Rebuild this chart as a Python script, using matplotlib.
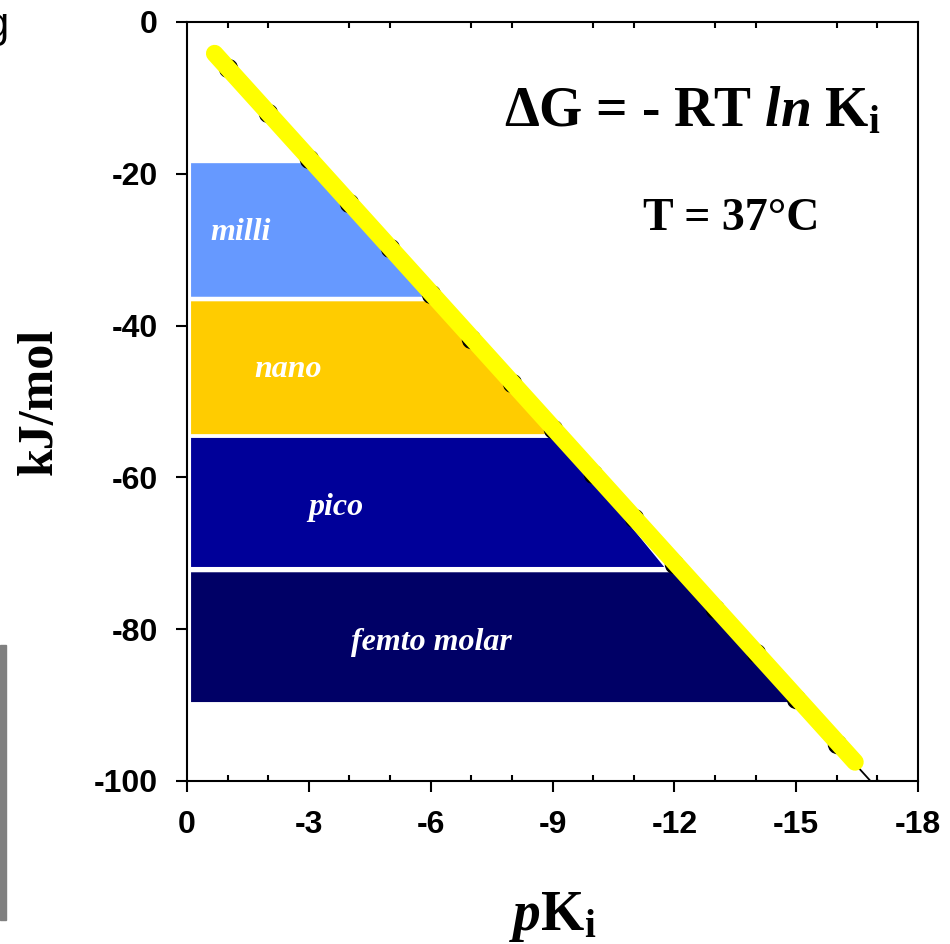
import numpy as np
import matplotlib.pyplot as plt
from matplotlib.ticker import MultipleLocator, FixedLocator

# data
pK = [-1, -2, -3, -4, -5, -6, -7, -8, -9, -10, -11, -12, -13, -14, -15, -16, -17]
dG = [-6.1, -12.0, -18.0, -23.9, -29.8, -35.8, -41.7, -47.6, -53.6, -59.5,
      -65.4, -71.4, -77.3, -83.2, -89.2, -95.1, -101.0]
fit_pK = [-0.68, -16.45]
fit_dG = [-4.15, -97.5]

band_names = ["milli", "nano", "pico", "femto molar"]
band_top = [-18.6, -36.8, -54.8, -72.5]
band_bottom = [-36.2, -54.3, -71.8, -89.6]
band_right_top = [-3.13, -6.18, -9.15, -12.2]
band_right_bottom = [-6.08, -9.13, -11.75, -14.95]
band_left = -0.1
band_colors = ["#6699ff", "#ffcc00", "#000099", "#000066"]

xticks = [0, -3, -6, -9, -12, -15, -18]
yticks = [0, -20, -40, -60, -80, -100]

plt.rcParams['axes.unicode_minus'] = False
plt.rcParams['mathtext.fontset'] = 'custom'
plt.rcParams['mathtext.rm'] = 'Liberation Serif:bold'
plt.rcParams['mathtext.it'] = 'Liberation Serif:bold:italic'
plt.rcParams['mathtext.bf'] = 'Liberation Serif:bold'

fig = plt.figure(figsize=(9.5, 9.44), dpi=100)
ax = fig.add_axes([187/950, 1-781/944, 731/950, 759/944])

#=========== concentration bands =============#
for i in range(len(band_names)):
    xs = [band_left, band_right_top[i], band_right_bottom[i], band_left]
    ys = [band_top[i], band_top[i], band_bottom[i], band_bottom[i]]
    ax.fill(xs, ys, color=band_colors[i], lw=0, zorder=1)

ax.plot(pK, dG, color='black', lw=1.3, marker='o', ms=13, zorder=2)
ax.plot(fit_pK, fit_dG, color='#ffff00', lw=12.5, solid_capstyle='round', zorder=3)

lab = dict(color='white', fontsize=23, family='Liberation Serif',
           style='italic', weight='bold', va='center', zorder=4)
ax.text(-0.57, -27.7, band_names[0], ha='left', **lab)
ax.text(-2.49, -45.8, band_names[1], ha='center', **lab)
ax.text(-3.67, -63.9, band_names[2], ha='center', **lab)
ax.text(-6.03, -81.7, band_names[3], ha='center', **lab)

ax.text(-12.44, -11.9, r'$\Delta$G = - RT $ln$ K$_\mathbf{i}$', fontsize=40,
        family='Liberation Serif', weight='bold', ha='center', va='center')
ax.text(-13.4, -26.0, 'T = 37°C', fontsize=33,
        family='Liberation Serif', weight='bold', ha='center', va='center')

ax.set_xlim(0, -18)
ax.set_ylim(-100, 0)
ax.xaxis.set_major_locator(FixedLocator(xticks))
ax.yaxis.set_major_locator(FixedLocator(yticks))
ax.xaxis.set_minor_locator(MultipleLocator(1))
ax.set_xticklabels([str(v) for v in xticks])
ax.set_yticklabels([str(v) for v in yticks])
for t in ax.get_xticklabels() + ax.get_yticklabels():
    t.set_family('Liberation Sans')
    t.set_weight('bold')
    t.set_fontsize(23)

ax.tick_params(which='major', direction='out', length=8, width=1.5,
               top=False, right=False, pad=13)
ax.tick_params(which='minor', direction='in', length=4, width=1.5,
               top=True, bottom=True)
for s in ax.spines.values():
    s.set_linewidth(1.5)

ax.set_ylabel('kJ/mol', fontsize=36, family='Liberation Serif', weight='bold',
              labelpad=22)
ax.set_xlabel(r'$p$K$_\mathbf{i}$', fontsize=40, family='Liberation Serif',
              weight='bold', labelpad=36)

# bits of neighbouring content cut off at the left edge
fig.text(0.009, 0.972, 'g', fontsize=30, family='Liberation Sans', ha='right', va='center')
fig.patches.append(plt.Rectangle((0, 1-920/944), 6/950, 275/944, color='#808080',
                                 transform=fig.transFigure, figure=fig))

fig.savefig('out.png', dpi=100)
